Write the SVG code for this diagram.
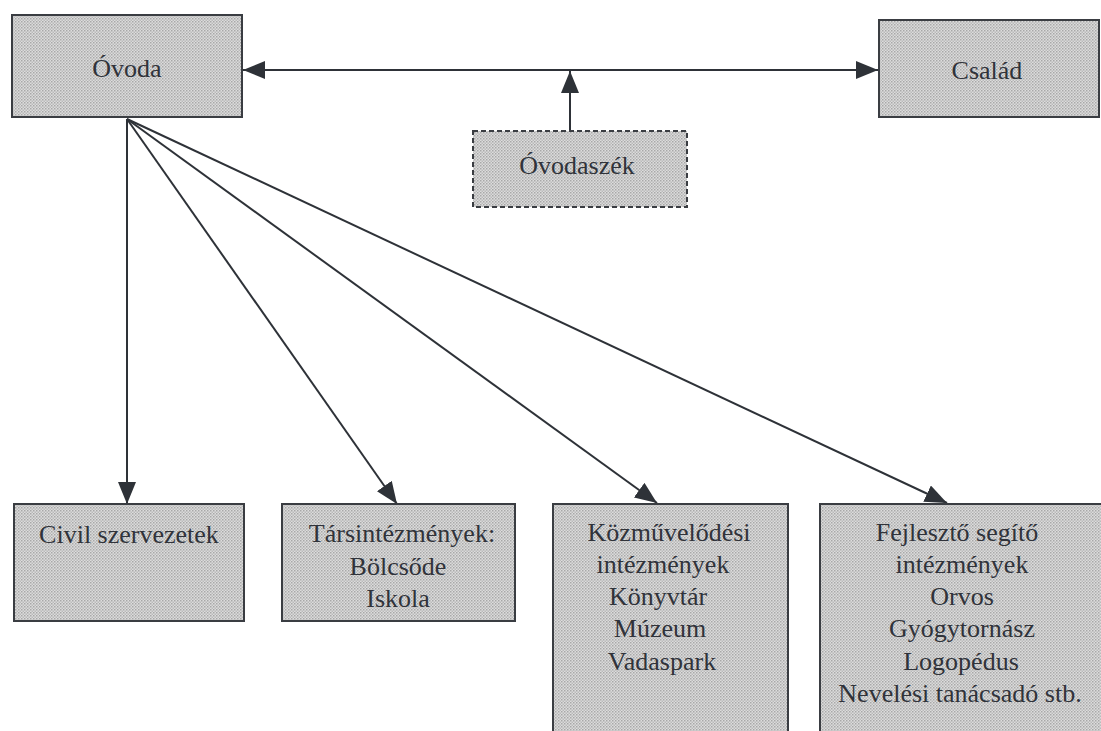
<svg xmlns="http://www.w3.org/2000/svg" width="1101" height="731" viewBox="0 0 1101 731">
<defs>
<pattern id="dots" width="3" height="3" patternUnits="userSpaceOnUse">
<rect width="3" height="3" fill="#dcdcdc"/>
<rect x="0" y="0" width="1.5" height="1.5" fill="#a8a8a8"/>
<rect x="1.5" y="1.5" width="1.5" height="1.5" fill="#bababa"/>
</pattern>
<marker id="arr" viewBox="0 0 22 18" refX="22" refY="9" markerWidth="22" markerHeight="18" markerUnits="userSpaceOnUse" orient="auto-start-reverse">
<path d="M0,0 L22,9 L0,18 Z" fill="#2e3238"/>
</marker>
</defs>
<style>
.box{fill:url(#dots);stroke:#3a3d42;stroke-width:2}
.dash{stroke-dasharray:5,3}
.t{font-family:Tinos,'Liberation Serif','Times New Roman',Times,'DejaVu Serif','Noto Serif',FreeSerif,serif;font-size:26px;fill:#30333a;text-anchor:middle}
.c{stroke:#2e3238;stroke-width:2;fill:none}
</style>
<g id="connectors">
<line class="c" x1="243" y1="70" x2="878" y2="70" marker-start="url(#arr)" marker-end="url(#arr)"/>
<line class="c" x1="570" y1="131" x2="570" y2="71" marker-end="url(#arr)"/>
<line class="c" x1="127" y1="119" x2="127" y2="504" marker-end="url(#arr)"/>
<line class="c" x1="127" y1="119" x2="397" y2="504" marker-end="url(#arr)"/>
<line class="c" x1="127" y1="119" x2="657" y2="503" marker-end="url(#arr)"/>
<line class="c" x1="127" y1="119" x2="947" y2="503" marker-end="url(#arr)"/>
</g>
<g id="ovoda">
<rect class="box" x="12" y="15" width="230" height="102"/>
<text class="t" x="127" y="77">Óvoda</text>
</g>
<g id="csalad">
<rect class="box" x="879" y="20" width="220" height="97"/>
<text class="t" x="987" y="79">Család</text>
</g>
<g id="ovodaszek">
<rect class="box dash" x="473" y="131" width="214" height="76"/>
<text class="t" x="577" y="174">Óvodaszék</text>
</g>
<g id="civil">
<rect class="box" x="14" y="504" width="230" height="117"/>
<text class="t" x="129" y="543">Civil szervezetek</text>
</g>
<g id="tarsintezmenyek">
<rect class="box" x="282" y="504" width="233" height="117"/>
<text class="t" x="402" y="542">Társintézmények:</text>
<text class="t" x="398" y="575">Bölcsőde</text>
<text class="t" x="398" y="607">Iskola</text>
</g>
<g id="kozmuvelodesi">
<rect class="box" x="553" y="504" width="235" height="240"/>
<text class="t" x="669" y="541">Közművelődési</text>
<text class="t" x="663" y="573">intézmények</text>
<text class="t" x="658" y="605">Könyvtár</text>
<text class="t" x="660" y="637">Múzeum</text>
<text class="t" x="662" y="670">Vadaspark</text>
</g>
<g id="fejleszto">
<rect class="box" x="820" y="504" width="290" height="240"/>
<text class="t" x="957" y="541">Fejlesztő segítő</text>
<text class="t" x="962" y="573">intézmények</text>
<text class="t" x="962" y="605">Orvos</text>
<text class="t" x="962" y="637">Gyógytornász</text>
<text class="t" x="961" y="670">Logopédus</text>
<text class="t" x="960" y="702">Nevelési tanácsadó stb.</text>
</g>
</svg>
